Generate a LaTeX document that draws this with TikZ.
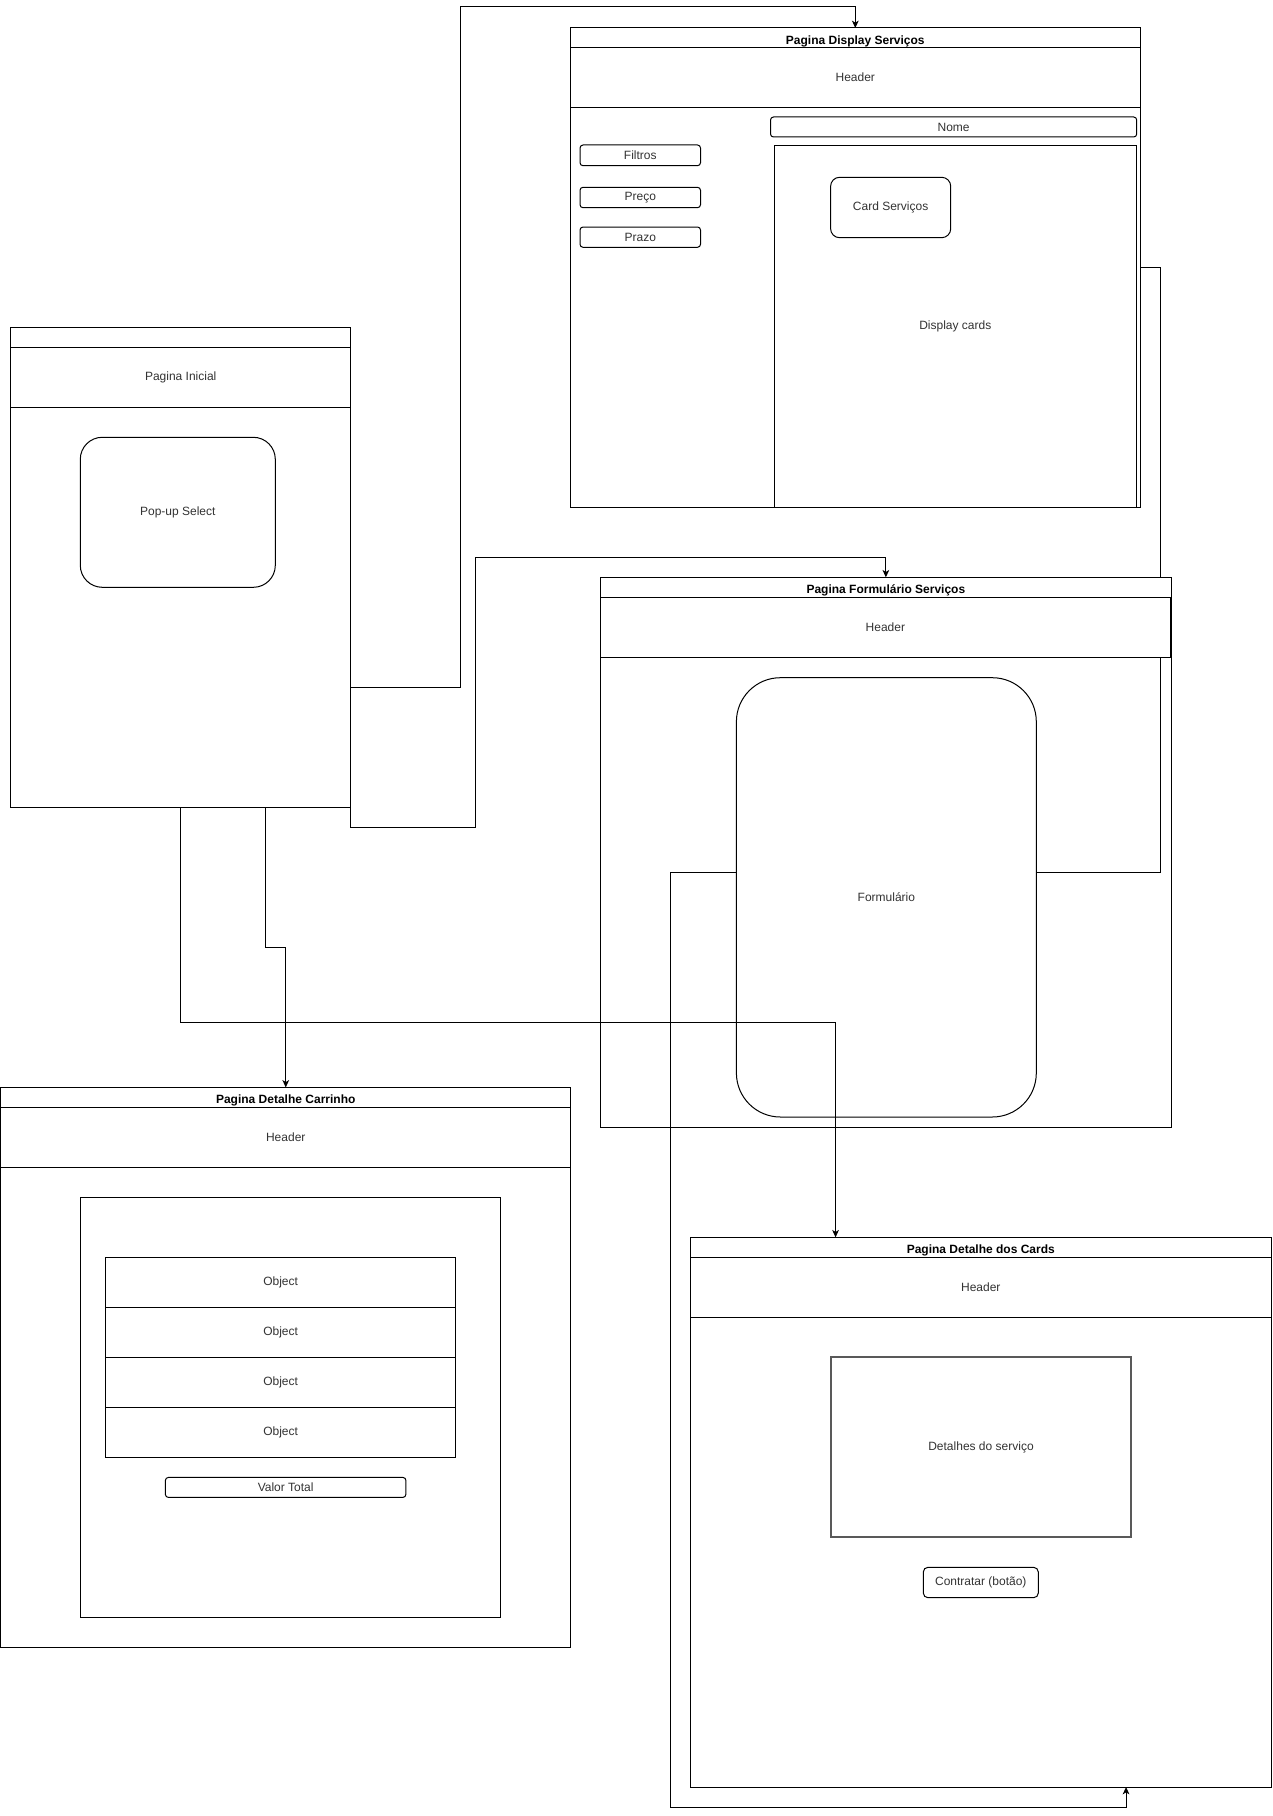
\documentclass[tikz,border=0pt]{standalone}
\usepackage{fontspec}
\setmainfont{Liberation Sans}
\usetikzlibrary{calc,arrows.meta}
\pgfdeclarelayer{bg}
\pgfsetlayers{bg,main}
\newcommand{\mkbox}[7]{%
  \pgfmathsetmacro{\mkcx}{(#2+#4)/2}%
  \pgfmathsetmacro{\mkcy}{(#3+#5)/2}%
  \pgfmathsetmacro{\mkw}{(#4-#2)*0.75}%
  \pgfmathsetmacro{\mkh}{(#5-#3)*0.75}%
  \node[#6, minimum width=\mkw pt, minimum height=\mkh pt] (#1) at (\mkcx,\mkcy) {#7};%
}
\tikzset{
 shp/.style={draw=black, line width=0.75pt, inner sep=0pt, outer sep=0pt, font=\fontsize{9}{10.8}\selectfont, text=black!80, align=center},
 filled/.style={shp, fill=white},
 ttl/.style={shp, fill=white, font=\bfseries\fontsize{9}{10.8}\selectfont, text=black, text height=9.8pt, text depth=0pt},
 btn/.style={shp, rounded corners=2.25pt},
 conn/.style={draw=black, line width=0.75pt},
 arr/.style={conn, -{Stealth[length=5.5pt,width=5pt,inset=1.5pt]}},
}
\begin{document}
\begin{tikzpicture}[x=0.75pt,y=-0.75pt]
\useasboundingbox (0,0) rectangle (1272,1816);
\begin{pgfonlayer}{bg}
\fill[white] (0,0) rectangle (1272,1816);
\end{pgfonlayer}
% Pagina Display Servicos
\mkbox{display}{570.3}{28}{1140.3}{507.3}{shp}{}
\mkbox{displayT}{570.3}{28}{1140.3}{47.7}{ttl}{Pagina Display Serviços}
\mkbox{displayH}{570.3}{47.7}{1140.3}{107.3}{filled}{Header}
\mkbox{nome}{770.5}{117}{1136.7}{137}{btn}{Nome}
\mkbox{filtros}{580}{145}{700.5}{165.7}{btn}{Filtros}
\mkbox{preco}{580}{187.3}{700.5}{207.7}{btn}{Preço}
\mkbox{prazo}{580}{227}{700.5}{247.3}{btn}{Prazo}
\mkbox{dcards}{774.3}{145.3}{1136.3}{507.3}{shp}{Display cards}
\mkbox{cardserv}{830.6}{177.3}{950.7}{237.7}{shp, rounded corners=6.75pt}{Card Serviços}
% Pagina Inicial
\mkbox{inicial}{10.7}{327.3}{350.7}{807.3}{shp}{}
\mkbox{inicialT}{10.7}{327.3}{350.7}{347.3}{ttl}{}
\mkbox{inicialH}{10.7}{347.3}{350.7}{407.3}{filled}{Pagina Inicial}
\mkbox{popup}{80.3}{437.3}{275.3}{587.3}{shp, rounded corners=16.5pt}{Pop-up Select}
% Pagina Formulario Servicos
\mkbox{form}{600.4}{577.3}{1171.3}{1127.3}{shp}{}
\mkbox{formT}{600.4}{577.3}{1171.3}{597.3}{ttl}{Pagina Formulário Serviços}
\mkbox{formH}{600.4}{597.3}{1170.3}{657.3}{filled, line width=1.1pt}{Header}
\mkbox{formbox}{736.4}{677.7}{1036.3}{1117}{shp, rounded corners=33pt}{Formulário}
% Pagina Detalhe Carrinho
\mkbox{carr}{0.7}{1087.4}{570.8}{1647.4}{shp}{}
\mkbox{carrT}{0.7}{1087.4}{570.8}{1107.4}{ttl}{Pagina Detalhe Carrinho}
\mkbox{carrH}{0.7}{1107.4}{570.8}{1167.3}{filled}{Header}
\mkbox{carrIn}{80.3}{1197.7}{500.6}{1617.2}{shp}{}
\mkbox{obj1}{105.4}{1257.6}{455.8}{1307.6}{shp}{Object}
\mkbox{obj2}{105.4}{1307.6}{455.8}{1357.5}{shp}{Object}
\mkbox{obj3}{105.4}{1357.5}{455.8}{1407.5}{shp}{Object}
\mkbox{obj4}{105.4}{1407.5}{455.8}{1457.4}{shp}{Object}
\mkbox{valor}{165.4}{1477.4}{405.9}{1497.4}{btn}{Valor Total}
% Pagina Detalhe dos Cards
\mkbox{cards}{690.3}{1237.3}{1271.3}{1787}{shp}{}
\mkbox{cardsT}{690.3}{1237.3}{1271.3}{1257.3}{ttl}{Pagina Detalhe dos Cards}
\mkbox{cardsH}{690.3}{1257.3}{1271.3}{1317.3}{filled}{Header}
\mkbox{detalhes}{830.7}{1357.3}{1131.3}{1537.3}{shp, draw=black!65, line width=1.5pt}{Detalhes do serviço}
\mkbox{contratar}{923.3}{1567.3}{1038.3}{1597.7}{shp, rounded corners=3.5pt}{Contratar (botão)}
% connectors
\begin{pgfonlayer}{bg}
\coordinate (s1) at ($(inicial.north east)!0.75!(inicial.south east)$);
\draw[arr] (s1) -| (460,7) -| (display.north);
\draw[arr] (inicial.south east) -- ++(0,19.7) -| (475,557.3) -| (form.north);
\coordinate (c3) at ($(cards.north west)!0.25!(cards.north east)$);
\draw[arr] (inicial.south) -- ++(0,215) -| (c3);
\coordinate (s4) at ($(inicial.south west)!0.75!(inicial.south east)$);
\draw[arr] (s4) -- ++(0,140) -| (carr.north);
\coordinate (f5) at ($(formbox.north west)!0.443!(formbox.south west)$);
\coordinate (c5) at ($(cards.south west)!0.75!(cards.south east)$);
\draw[arr] (f5) -| (670.3,1807) -| (c5);
\coordinate (f6) at ($(formbox.north east)!0.443!(formbox.south east)$);
\draw[conn] (f6) -- ++(124,0) |- (display.east);
\end{pgfonlayer}
\end{tikzpicture}
\end{document}
